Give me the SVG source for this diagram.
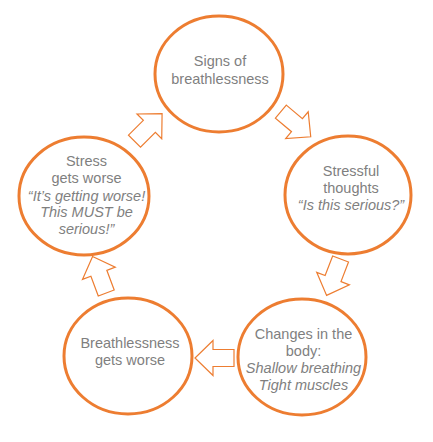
<svg xmlns="http://www.w3.org/2000/svg" width="433" height="442" viewBox="0 0 433 442">
<defs>
<style>
.c{fill:#fff;stroke:#ED7D31;stroke-width:3}
.t{font-family:"Liberation Sans",Arial,sans-serif;font-size:14.5px;fill:#7F7F7F;text-anchor:middle}
.i{font-style:italic}
.a{fill:#fff;stroke:#ED7D31;stroke-width:1.2;stroke-linejoin:miter}
</style>
<polygon id="arr" points="-19.5,-8.5 1.5,-8.5 1.5,-17.5 19.5,0 1.5,17.5 1.5,8.5 -19.5,8.5"/>
</defs>
<rect width="433" height="442" fill="#fff"/>
<g id="n1">
<ellipse class="c" cx="219" cy="74" rx="64" ry="58"/>
<text class="t" x="220" y="66">Signs of</text>
<text class="t" x="220" y="83.5">breathlessness</text>
</g>
<g id="n2">
<ellipse class="c" cx="348" cy="195" rx="63" ry="59"/>
<text class="t" x="351" y="176">Stressful</text>
<text class="t" x="351" y="193">thoughts</text>
<text class="t i" x="351" y="210">“Is this serious?”</text>
</g>
<g id="n3">
<ellipse class="c" cx="302" cy="357" rx="64" ry="58"/>
<text class="t" x="303.5" y="339">Changes in the</text>
<text class="t" x="303.5" y="356">body:</text>
<text class="t i" x="303.5" y="373">Shallow breathing</text>
<text class="t i" x="303.5" y="389.5">Tight muscles</text>
</g>
<g id="n4">
<ellipse class="c" cx="128" cy="356" rx="64" ry="58"/>
<text class="t" x="130" y="347.5">Breathlessness</text>
<text class="t" x="130" y="365">gets worse</text>
</g>
<g id="n5">
<ellipse class="c" cx="84" cy="196" rx="65" ry="59"/>
<text class="t" x="86.5" y="166">Stress</text>
<text class="t" x="86.5" y="183">gets worse</text>
<text class="t i" x="86.5" y="200.5">“It’s getting worse!</text>
<text class="t i" x="86.5" y="217">This MUST be</text>
<text class="t i" x="86.5" y="233.5">serious!”</text>
</g>
<g id="connectors">
<use href="#arr" class="a" transform="translate(295.8,124.2) rotate(40)"/>
<use href="#arr" class="a" transform="translate(333.6,277.2) rotate(111)"/>
<use href="#arr" class="a" transform="translate(214.5,358) rotate(180)"/>
<use href="#arr" class="a" transform="translate(99.4,274.7) rotate(-110.5)"/>
<use href="#arr" class="a" transform="translate(148.3,127.4) rotate(-45)"/>
</g>
</svg>
